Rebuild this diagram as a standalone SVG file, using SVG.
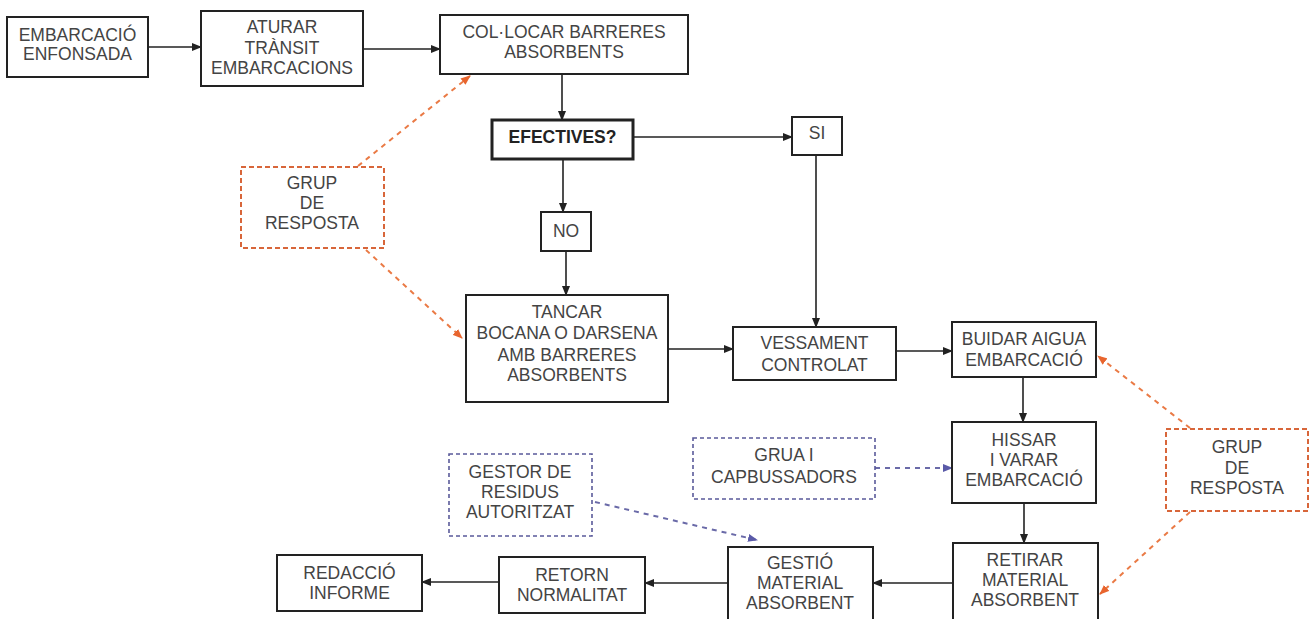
<svg xmlns="http://www.w3.org/2000/svg" width="1314" height="619" viewBox="0 0 1314 619">
<style>
.box{fill:#fff;stroke:#222;stroke-width:2}
.bold{stroke-width:3}
.grp{fill:#fff;stroke:#d8663a;stroke-width:2;stroke-dasharray:5 3}
.ext{fill:#fff;stroke:#5a5a9a;stroke-width:1.6;stroke-dasharray:4 3}
text{font-family:"Liberation Sans",Arial,sans-serif;font-size:17.5px;fill:#444;text-anchor:middle}
.b{font-weight:bold;fill:#222}
.c{fill:none;stroke:#222;stroke-width:1.6}
.o{fill:none;stroke:#ea7a45;stroke-width:2;stroke-dasharray:5 5}
.p{fill:none;stroke:#6a6aa8;stroke-width:2;stroke-dasharray:5 5}
</style>
<defs>
<marker id="ah" markerUnits="userSpaceOnUse" markerWidth="10" markerHeight="8" refX="9" refY="4" orient="auto"><path d="M0,0 L10,4 L0,8 Z" fill="#222"/></marker>
<marker id="ao" markerUnits="userSpaceOnUse" markerWidth="10" markerHeight="8" refX="9" refY="4" orient="auto"><path d="M0,0 L10,4 L0,8 Z" fill="#e8652e"/></marker>
<marker id="ap" markerUnits="userSpaceOnUse" markerWidth="10" markerHeight="8" refX="9" refY="4" orient="auto"><path d="M0,0 L10,4 L0,8 Z" fill="#5a5aa8"/></marker>
</defs>
<rect width="1314" height="619" fill="#fff"/>
<g id="connectors">
<line class="c" x1="148" y1="47" x2="201" y2="47" marker-end="url(#ah)"/>
<line class="c" x1="363" y1="49" x2="440" y2="49" marker-end="url(#ah)"/>
<line class="c" x1="562" y1="74" x2="562" y2="120" marker-end="url(#ah)"/>
<line class="c" x1="633" y1="137" x2="792" y2="137" marker-end="url(#ah)"/>
<line class="c" x1="563" y1="159" x2="563" y2="212" marker-end="url(#ah)"/>
<line class="c" x1="816" y1="155" x2="816" y2="327" marker-end="url(#ah)"/>
<line class="c" x1="566" y1="251" x2="566" y2="295" marker-end="url(#ah)"/>
<line class="c" x1="668" y1="349" x2="733" y2="349" marker-end="url(#ah)"/>
<line class="c" x1="896" y1="351" x2="952" y2="351" marker-end="url(#ah)"/>
<line class="c" x1="1023" y1="377" x2="1023" y2="422" marker-end="url(#ah)"/>
<line class="c" x1="1024" y1="503" x2="1024" y2="543" marker-end="url(#ah)"/>
<line class="c" x1="953" y1="583" x2="873" y2="583" marker-end="url(#ah)"/>
<line class="c" x1="728" y1="583" x2="645" y2="583" marker-end="url(#ah)"/>
<line class="c" x1="499" y1="582" x2="422" y2="582" marker-end="url(#ah)"/>
<line class="o" x1="358" y1="166" x2="470" y2="76" marker-end="url(#ao)"/>
<line class="o" x1="366" y1="250" x2="462" y2="338" marker-end="url(#ao)"/>
<line class="o" x1="1190" y1="428" x2="1098" y2="356" marker-end="url(#ao)"/>
<line class="o" x1="1190" y1="512" x2="1100" y2="594" marker-end="url(#ao)"/>
<line class="p" x1="875" y1="468" x2="952" y2="468" marker-end="url(#ap)"/>
<line class="p" x1="595" y1="502" x2="757" y2="540" marker-end="url(#ap)"/>
</g>
<g id="n1"><rect class="box" x="7" y="17" width="141" height="60"/><text x="77.5" y="41">EMBARCACIÓ</text><text x="77.5" y="60">ENFONSADA</text></g>
<g id="n2"><rect class="box" x="201" y="11" width="162" height="75"/><text x="282" y="33">ATURAR</text><text x="282" y="54">TRÀNSIT</text><text x="282" y="74">EMBARCACIONS</text></g>
<g id="n3"><rect class="box" x="440" y="15" width="248" height="59"/><text x="564" y="38">COL·LOCAR BARRERES</text><text x="564" y="58">ABSORBENTS</text></g>
<g id="n4"><rect class="box bold" x="492" y="120" width="141" height="39"/><text class="b" x="562.5" y="143">EFECTIVES?</text></g>
<g id="n5"><rect class="box" x="792" y="117" width="50" height="38"/><text x="817" y="139">SI</text></g>
<g id="n6"><rect class="box" x="541" y="212" width="50" height="39"/><text x="566" y="237">NO</text></g>
<g id="n7"><rect class="box" x="466" y="295" width="202" height="107"/><text x="567" y="318">TANCAR</text><text x="567" y="339">BOCANA O DARSENA</text><text x="567" y="361">AMB BARRERES</text><text x="567" y="381">ABSORBENTS</text></g>
<g id="n8"><rect class="box" x="733" y="327" width="163" height="53"/><text x="814.5" y="349">VESSAMENT</text><text x="814.5" y="371">CONTROLAT</text></g>
<g id="n9"><rect class="box" x="952" y="322" width="144" height="55"/><text x="1024" y="345">BUIDAR AIGUA</text><text x="1024" y="366">EMBARCACIÓ</text></g>
<g id="n10"><rect class="box" x="952" y="422" width="144" height="81"/><text x="1024" y="446">HISSAR</text><text x="1024" y="466">I VARAR</text><text x="1024" y="486">EMBARCACIÓ</text></g>
<g id="n11"><rect class="box" x="953" y="543" width="145" height="80"/><text x="1025" y="566">RETIRAR</text><text x="1025" y="586">MATERIAL</text><text x="1025" y="606">ABSORBENT</text></g>
<g id="n12"><rect class="box" x="728" y="547" width="145" height="76"/><text x="800" y="569">GESTIÓ</text><text x="800" y="589">MATERIAL</text><text x="800" y="609">ABSORBENT</text></g>
<g id="n13"><rect class="box" x="499" y="557" width="146" height="56"/><text x="572" y="581">RETORN</text><text x="572" y="601">NORMALITAT</text></g>
<g id="n14"><rect class="box" x="277" y="555" width="145" height="56"/><text x="349.5" y="579">REDACCIÓ</text><text x="349.5" y="599">INFORME</text></g>
<g id="g1"><rect class="grp" x="241" y="167" width="143" height="81"/><text x="312" y="189">GRUP</text><text x="312" y="209">DE</text><text x="312" y="229">RESPOSTA</text></g>
<g id="g2"><rect class="grp" x="1166" y="429" width="142" height="82"/><text x="1237" y="453">GRUP</text><text x="1237" y="474">DE</text><text x="1237" y="494">RESPOSTA</text></g>
<g id="e1"><rect class="ext" x="693" y="438" width="182" height="61"/><text x="784" y="461">GRUA I</text><text x="784" y="483">CAPBUSSADORS</text></g>
<g id="e2"><rect class="ext" x="449" y="454" width="143" height="82"/><text x="520" y="478">GESTOR DE</text><text x="520" y="498">RESIDUS</text><text x="520" y="518">AUTORITZAT</text></g>
</svg>
